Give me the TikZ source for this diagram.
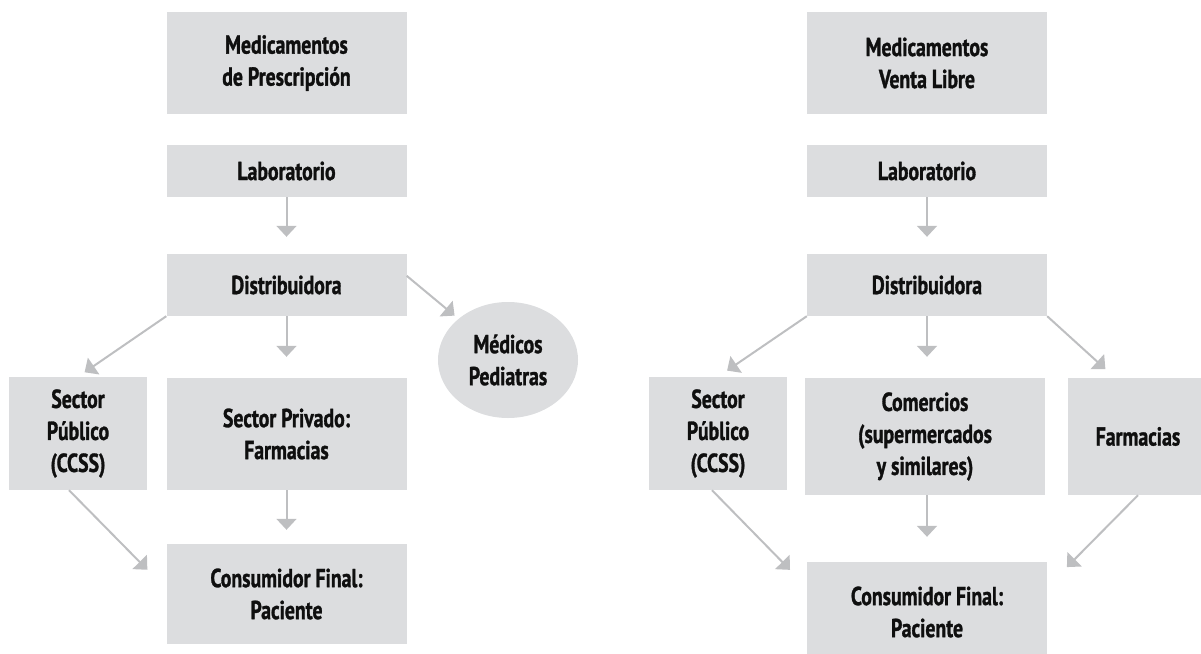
\documentclass[tikz,border=0pt]{standalone}
\usepackage{fontspec}
\setmainfont{PT Sans}[FakeStretch=0.76,BoldFeatures={FakeBold=1.2}]
\usetikzlibrary{arrows.meta,shapes.geometric}
\definecolor{boxgray}{RGB}{220,221,223}
\definecolor{arrowgray}{RGB}{190,191,193}
\definecolor{txt}{RGB}{15,15,15}
\begin{document}
\begin{tikzpicture}[x=1pt,y=-1pt,
  box/.style={rectangle, fill=boxgray, inner sep=0pt, align=center, text=txt,
    font=\fontsize{26}{32}\selectfont\bfseries},
  oval/.style={ellipse, fill=boxgray, inner sep=0pt, align=center, text=txt,
    font=\fontsize{26}{32}\selectfont\bfseries, minimum width=140pt, minimum height=116pt},
  flow/.style={draw=arrowgray, line width=2pt, -{Triangle[length=11pt,width=20pt]}}]
\useasboundingbox (0,0) rectangle (1201,653);
% left diagram
\node[box, minimum width=240pt, minimum height=102pt] (t1) at (286.5,63) {Medicamentos\\de Prescripción};
\node[box, minimum width=240pt, minimum height=52pt] (l1) at (286.5,171) {Laboratorio};
\node[box, minimum width=240pt, minimum height=62pt] (d1) at (286.5,285) {Distribuidora};
\node[box, minimum width=138pt, minimum height=113pt] (sp1) at (78,433.5) {Sector\\Público\\(CCSS)};
\node[box, minimum width=240pt, minimum height=112pt] (pr1) at (286.5,434) {Sector Privado:\\Farmacias};
\node[oval] (med) at (508,360) {Médicos\\Pediatras};
\node[box, minimum width=240pt, minimum height=100pt] (c1) at (286.5,594) {Consumidor Final:\\Paciente};
% right diagram
\node[box, minimum width=240pt, minimum height=102pt] (t2) at (927,63) {Medicamentos\\Venta Libre};
\node[box, minimum width=240pt, minimum height=52pt] (l2) at (927,171) {Laboratorio};
\node[box, minimum width=240pt, minimum height=62pt] (d2) at (927,285) {Distribuidora};
\node[box, minimum width=138pt, minimum height=113pt] (sp2) at (718,433.5) {Sector\\Público\\(CCSS)};
\node[box, minimum width=240pt, minimum height=117pt] (co2) at (925,436.5) {Comercios\\(supermercados\\y similares)};
\node[box, minimum width=140pt, minimum height=117pt] (fa2) at (1138,436.5) {Farmacias};
\node[box, minimum width=240pt, minimum height=100pt] (c2) at (927,612) {Consumidor Final:\\Paciente};
% left connectors
\draw[flow, shorten >=17pt] (l1.south) -- (l1.south |- d1.north);
\draw[flow, shorten >=8pt] (d1.south west) -- (sp1.north);
\draw[flow, shorten >=21pt] (d1.south) -- (d1.south |- pr1.north);
\draw[flow, shorten >=5pt] ([yshift=-22pt]d1.north east) -- (med);
\draw[flow, shorten >=14pt] (pr1.south) -- (pr1.south |- c1.north);
\draw[flow, shorten >=27pt] ([xshift=-9pt]sp1.south) -- ([yshift=5pt]c1.west);
% right connectors
\draw[flow, shorten >=17pt] (l2.south) -- (l2.south |- d2.north);
\draw[flow, shorten >=11pt] (d2.south west) -- (sp2.north);
\draw[flow, shorten >=21pt] (d2.south) -- (d2.south |- co2.north);
\draw[flow, shorten >=13pt] (d2.south east) -- ([xshift=-23pt]fa2.north);
\draw[flow, shorten >=25pt] (d2.south |- co2.south) -- (d2.south |- c2.north);
\draw[flow, shorten >=24pt] ([xshift=-6pt]sp2.south) -- ([yshift=25pt]c2.west);
\draw[flow, shorten >=28pt] (fa2.south) -- ([yshift=25pt]c2.east);
\end{tikzpicture}
\end{document}
